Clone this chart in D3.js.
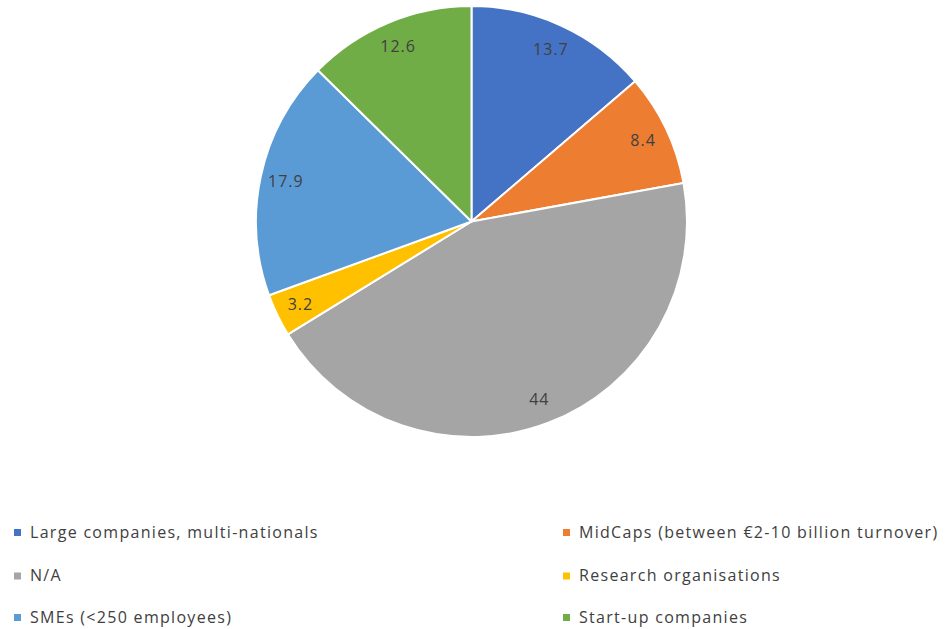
<!DOCTYPE html>
<html>
<head>
<meta charset="utf-8">
<script src="https://cdn.jsdelivr.net/npm/d3@7"></script>
<style>
  html, body { margin: 0; padding: 0; background: #ffffff; }
  svg { display: block; }
</style>
</head>
<body>
<svg id="chart" width="947" height="629"></svg>
<script>
const categories = [
  "Large companies, multi-nationals",
  "MidCaps (between €2-10 billion turnover)",
  "N/A",
  "Research organisations",
  "SMEs (<250 employees)",
  "Start-up companies"
];
const values = [13.7, 8.4, 44, 3.2, 17.9, 12.6];
const colors = ["#4472C4", "#ED7D31", "#A5A5A5", "#FFC000", "#5B9BD5", "#70AD47"];

const svg = d3.select("#chart");
const cx = 471.5, cy = 221.5, radius = 215.5, labelR = 190;

const data = categories.map((c, i) => ({ name: c, value: values[i], color: colors[i] }));

const pie = d3.pie().sort(null).value(d => d.value);
const arcs = pie(data);
const arc = d3.arc().innerRadius(0).outerRadius(radius);
const labelArc = d3.arc().innerRadius(labelR).outerRadius(labelR);

const g = svg.append("g").attr("transform", `translate(${cx},${cy})`);

g.selectAll("path.slice")
  .data(arcs)
  .join("path")
  .attr("class", "slice")
  .attr("d", arc)
  .attr("fill", d => d.data.color)
  .attr("stroke", "#ffffff")
  .attr("stroke-width", 2)
  .attr("stroke-linejoin", "round");

g.selectAll("text.lbl")
  .data(arcs)
  .join("text")
  .attr("class", "lbl")
  .attr("transform", d => `translate(${labelArc.centroid(d)})`)
  .attr("text-anchor", "middle")
  .attr("dy", "0.35em")
  .attr("font-family", "'Open Sans', sans-serif")
  .attr("font-size", 16)
  .attr("letter-spacing", "1px")
  .attr("fill", "#404040")
  .text(d => d.data.value);

// Legend: two columns, three rows
const colX = [14, 563];
const rowY = [532, 575.5, 617];
const legend = svg.append("g");
const items = legend.selectAll("g.item")
  .data(data)
  .join("g")
  .attr("class", "item")
  .attr("transform", (d, i) => `translate(${colX[i % 2]},${rowY[Math.floor(i / 2)]})`);

items.append("rect")
  .attr("x", 0)
  .attr("y", -3)
  .attr("width", 7)
  .attr("height", 7)
  .attr("fill", d => d.color);

items.append("text")
  .attr("x", 16)
  .attr("dy", "0.35em")
  .attr("font-family", "'Open Sans', sans-serif")
  .attr("font-size", 16)
  .attr("letter-spacing", "1.3px")
  .attr("fill", "#404040")
  .text(d => d.name);
</script>
</body>
</html>
